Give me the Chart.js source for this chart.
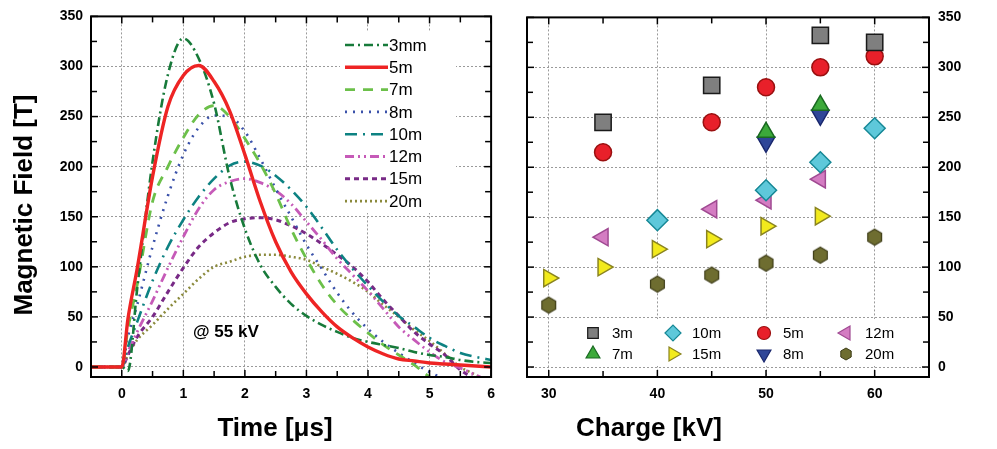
<!DOCTYPE html>
<html><head><meta charset="utf-8">
<script src="https://cdn.jsdelivr.net/npm/chart.js@4"></script>
<style>
html,body{margin:0;padding:0;background:#fff;width:997px;height:449px;overflow:hidden}
#cL{position:absolute;left:0;top:0}
#cR{position:absolute;left:500px;top:0}
</style></head><body>
<canvas id="cL" width="504" height="449"></canvas>
<canvas id="cR" width="497" height="449"></canvas>
<script>
// ---------- Data: left panel (waveforms @ 55 kV) ----------
const times = [-0.5,-0.25,0,0.1,0.25,0.5,0.75,1,1.25,1.5,1.75,2,2.25,2.5,2.75,3,3.25,3.5,3.75,4,4.25,4.5,4.75,5,5.25,5.5,5.75,6];
const b3mm = [0,0,0,-4,78,205,292,328,308,263,190,138,102,80,63,51,42,35,29,25,22,19,15,12,10,7,5,4];
const b5m  = [0,0,0,48,98,190,260,291,301,285,256,212,165,125,95,73,55,40,29,20,13,8,6,4,3,2,1,0];
const b7m  = [0,0,0,38,82,165,200,229,252,261,250,228,203,173,138,108,82,62,47,34,22,12,2,-10,-20,-28,-34,-40];
const b8m  = [0,0,0,30,62,120,171,212,239,251,250,235,208,178,150,122,98,74,54,38,25,14,4,-5,-12,-18,-24,-30];
const b10m = [0,0,0,20,45,86,120,147,170,188,201,205,201,191,177,160,139,117,98,81,65,51,40,29,21,14,10,7];
const b12m = [0,0,0,15,35,66,99,130,158,177,185,188,184,176,163,145,127,108,92,76,58,40,27,15,5,-1,-8,-15];
const b15m = [0,0,0,12,30,50,75,99,120,134,144,148,149,147,141,133,123,112,100,85,67,51,35,23,12,-3,-12,-20];
const b20m = [0,0,0,12,27,42,58,73,88,100,105,110,112,112,110,107,100,93,85,75,62,50,37,26,13,0,-8,-18];
const legendL = ["3mm","5m","7m","8m","10m","12m","15m","20m"];
const xTicksL = [0,1,2,3,4,5,6];
const xMinorL = [0.5,1.5,2.5,3.5,4.5,5.5];
const yTicks = [0,50,100,150,200,250,300,350];
const yMinor = [25,75,125,175,225,275,325];

// ---------- Data: right panel (peak field vs charge voltage) ----------
const kv3mm = [35,45,55,60];          const pk3mm = [245,282,332,325];
const kv5m  = [35,45,50,55,60];       const pk5m  = [215,245,280,300,311];
const kv7m  = [50,55];                const pk7m  = [235,262];
const kv8m  = [50,55];                const pk8m  = [225,252];
const kv10m = [40,50,55,60];          const pk10m = [147,177,205,239];
const kv12m = [35,45,50,55];          const pk12m = [130,158,167,188];
const kv15m = [30,35,40,45,50,55];    const pk15m = [89,100,118,128,141,151];
const kv20m = [30,40,45,50,55,60];    const pk20m = [62,83,92,104,112,130];
const legendR = ["3m","10m","5m","12m","7m","15m","8m","20m"];
const xTicksR = [30,40,50,60];
const xMinorR = [35,45,55];

const FONT = 'Arial, "Liberation Sans", sans-serif';
Chart.defaults.font.family = FONT;
Chart.defaults.color = '#000';

// ---------- helpers ----------
function inwardTicks(id, xMaj, xMin, yMaj, yMin){
  return {
    id,
    afterDatasetsDraw(chart){
      const {ctx, chartArea:a, scales} = chart;
      const xs = scales.x, ys = scales.y;
      ctx.save();
      ctx.strokeStyle = '#000';
      ctx.lineWidth = 1.5;
      const ln = (x1,y1,x2,y2)=>{ctx.beginPath();ctx.moveTo(x1,y1);ctx.lineTo(x2,y2);ctx.stroke();};
      const doX = (vals,len)=>vals.forEach(v=>{const p=xs.getPixelForValue(v); ln(p,a.bottom,p,a.bottom-len); ln(p,a.top,p,a.top+len);});
      const doY = (vals,len)=>vals.forEach(v=>{const p=ys.getPixelForValue(v); ln(a.left,p,a.left+len,p); ln(a.right,p,a.right-len,p);});
      doX(xMaj,7); doX(xMin,6); doY(yMaj,7); doY(yMin,6);
      ctx.lineWidth = 2;
      ctx.strokeRect(a.left, a.top, a.right-a.left, a.bottom-a.top);
      ctx.restore();
    }
  };
}
function hexCanvas(size, fill, stroke, lw){
  const c = document.createElement('canvas');
  c.width = c.height = Math.ceil(size + lw*2 + 2);
  const g = c.getContext('2d');
  const r = size/2, cx = c.width/2, cy = c.height/2;
  g.beginPath();
  for(let i=0;i<6;i++){const ang=-Math.PI/2+i*Math.PI/3; const px=cx+r*Math.cos(ang), py=cy+r*Math.sin(ang); i?g.lineTo(px,py):g.moveTo(px,py);}
  g.closePath(); g.fillStyle=fill; g.fill(); g.lineWidth=lw; g.strokeStyle=stroke; g.stroke();
  return c;
}

// ---------- left chart ----------
const seriesL = [
  {label:legendL[0], v:b3mm, color:'#177a3a', w:2.6, dash:[9,4,2,4]},
  {label:legendL[1], v:b5m,  color:'#ee2424', w:3.4, dash:[]},
  {label:legendL[2], v:b7m,  color:'#6cc04a', w:2.8, dash:[10,8]},
  {label:legendL[3], v:b8m,  color:'#3b52aa', w:2.6, dash:[2,6]},
  {label:legendL[4], v:b10m, color:'#0d8282', w:2.6, dash:[12,6,2,6]},
  {label:legendL[5], v:b12m, color:'#c65ab8', w:2.8, dash:[9,4,2,4,2,4]},
  {label:legendL[6], v:b15m, color:'#782a86', w:3.0, dash:[5,4]},
  {label:legendL[7], v:b20m, color:'#8b8a3c', w:2.6, dash:[2,3]}
];

const legendLPlugin = {
  id:'legendL',
  afterDraw(chart){
    const ctx = chart.ctx;
    ctx.save();
    ctx.fillStyle = '#fff';
    ctx.fillRect(340, 31, 116, 182);
    seriesL.forEach((s,i)=>{
      const y = 45 + i*22.3;
      ctx.beginPath();
      ctx.strokeStyle = s.color; ctx.lineWidth = s.w; ctx.setLineDash(s.dash);
      ctx.moveTo(345, y); ctx.lineTo(388, y); ctx.stroke();
      ctx.setLineDash([]);
      ctx.fillStyle = '#000';
      ctx.font = '17px ' + FONT;
      ctx.textBaseline = 'middle';
      ctx.fillText(s.label, 389, y+1);
    });
    ctx.font = 'bold 17px ' + FONT;
    ctx.fillText('@ 55 kV', 193, 332);
    // axis titles
    ctx.font = 'bold 26px ' + FONT;
    ctx.textAlign = 'center';
    ctx.fillText('Time [μs]', 275, 429);
    ctx.translate(25, 205); ctx.rotate(-Math.PI/2);
    ctx.fillText('Magnetic Field [T]', 0, 0);
    ctx.restore();
  }
};

new Chart(document.getElementById('cL'), {
  type:'line',
  data:{datasets: seriesL.map((s,i)=>({
    label:s.label,
    data: times.map((t,k)=>({x:t, y:s.v[k]})),
    borderColor:s.color, borderWidth:s.w, borderDash:s.dash,
    pointRadius:0, fill:false, cubicInterpolationMode:'monotone',
    order: i===1 ? 0 : 1
  }))},
  options:{
    responsive:false, animation:false, events:[],
    layout:{padding:{left:0, top:12, right:9, bottom:0}},
    plugins:{legend:{display:false}, tooltip:{enabled:false}},
    scales:{
      x:{type:'linear', min:-0.5, max:6,
         afterBuildTicks:s=>{s.ticks = xTicksL.map(v=>({value:v}));},
         afterFit:s=>{s.height = 72;},
         grid:{drawTicks:false, color:'#9a9a9a', lineWidth:1},
         border:{display:false, dash:[2,2]},
         ticks:{padding:9, autoSkip:false, maxRotation:0, font:{size:14, weight:'bold'}, color:'#000'}},
      y:{type:'linear', min:-10, max:350,
         afterBuildTicks:s=>{s.ticks = yTicks.map(v=>({value:v}));},
         afterFit:s=>{s.width = 91;},
         grid:{drawTicks:false, color:'#9a9a9a', lineWidth:1},
         border:{display:false, dash:[2,2]},
         ticks:{padding:8, font:{size:14, weight:'bold'}, color:'#000'}}
    }
  },
  plugins:[legendLPlugin, inwardTicks('frameL', xTicksL, xMinorL, yTicks, yMinor)]
});

// ---------- right chart ----------
const seriesR = [
  {label:legendR[0], kv:kv3mm, pk:pk3mm, style:'rect',     rot:0,   r:11.5, lr:7.5, fill:'#7f7f7f', stroke:'#1a1a1a'},
  {label:legendR[1], kv:kv10m, pk:pk10m, style:'rectRot',  rot:0,   r:10.5, lr:8, fill:'#5ec8da', stroke:'#168896'},
  {label:legendR[2], kv:kv5m,  pk:pk5m,  style:'circle',   rot:0,   r:8.5, lr:6.5, fill:'#e8202a', stroke:'#9a1010'},
  {label:legendR[3], kv:kv12m, pk:pk12m, style:'triangle', rot:270, r:10, lr:8, fill:'#d47cc2', stroke:'#a04a92'},
  {label:legendR[4], kv:kv7m,  pk:pk7m,  style:'triangle', rot:0,   r:10, lr:8, fill:'#3caa3a', stroke:'#1a6a22'},
  {label:legendR[5], kv:kv15m, pk:pk15m, style:'triangle', rot:90,  r:10, lr:8, fill:'#f2ea1c', stroke:'#8a8420'},
  {label:legendR[6], kv:kv8m,  pk:pk8m,  style:'triangle', rot:180, r:10, lr:8, fill:'#2f4698', stroke:'#1a286e'},
  {label:legendR[7], kv:kv20m, pk:pk20m, style:'hex',      rot:0,   r:8, lr:6, fill:'#6e6d30', stroke:'#3e3d18'}
];
seriesR.forEach(s=>{
  if(s.style==='hex'){ s.ps = hexCanvas(16, s.fill, s.stroke, 1.2); s.lps = hexCanvas(12, s.fill, s.stroke, 1); }
  else { s.ps = s.style; s.lps = s.style; }
});

const legendRPlugin = {
  id:'legendR',
  afterDraw(chart){
    const ctx = chart.ctx;
    ctx.save();
    ctx.fillStyle = '#fff';
    ctx.fillRect(62, 319, 344, 47);
    const colX = [93, 173, 264, 346];
    const rowY = [333, 354];
    seriesR.forEach((s,i)=>{
      const x = colX[i%4], y = rowY[Math.floor(i/4)];
      ctx.fillStyle = s.fill; ctx.strokeStyle = s.stroke; ctx.lineWidth = 1.2;
      Chart.helpers.drawPoint(ctx, {pointStyle:s.lps, radius:s.lr, rotation:s.rot, borderWidth:1.2}, x, y);
      ctx.fillStyle = '#000';
      ctx.font = '15px ' + FONT;
      ctx.textBaseline = 'middle';
      ctx.fillText(s.label, x + 19, y + 1);
    });
    ctx.font = 'bold 26px ' + FONT;
    ctx.textAlign = 'left';
    ctx.fillText('Charge [kV]', 76, 429);
    ctx.restore();
  }
};

new Chart(document.getElementById('cR'), {
  type:'scatter',
  data:{datasets: seriesR.map(s=>({
    label:s.label,
    data: s.kv.map((k,i)=>({x:k, y:s.pk[i]})),
    pointStyle:s.ps, pointRotation:s.rot, pointRadius:s.r,
    backgroundColor:s.fill, borderColor:s.stroke, borderWidth:1.5,
    showLine:false
  }))},
  options:{
    responsive:false, animation:false, events:[],
    layout:{padding:{left:27, top:12, right:0, bottom:0}},
    plugins:{legend:{display:false}, tooltip:{enabled:false}},
    scales:{
      x:{type:'linear', min:28, max:65,
         afterBuildTicks:s=>{s.ticks = xTicksR.map(v=>({value:v}));},
         afterFit:s=>{s.height = 72;},
         grid:{drawTicks:false, color:'#9a9a9a', lineWidth:1},
         border:{display:false, dash:[2,2]},
         ticks:{padding:9, autoSkip:false, maxRotation:0, font:{size:14, weight:'bold'}, color:'#000'}},
      y:{type:'linear', position:'right', min:-10, max:350,
         afterBuildTicks:s=>{s.ticks = yTicks.map(v=>({value:v}));},
         afterFit:s=>{s.width = 68;},
         grid:{drawTicks:false, color:'#9a9a9a', lineWidth:1},
         border:{display:false, dash:[2,2]},
         ticks:{padding:9, font:{size:14, weight:'bold'}, color:'#000'}}
    }
  },
  plugins:[legendRPlugin, inwardTicks('frameR', xTicksR, xMinorR, yTicks, yMinor)]
});
</script>
</body></html>
